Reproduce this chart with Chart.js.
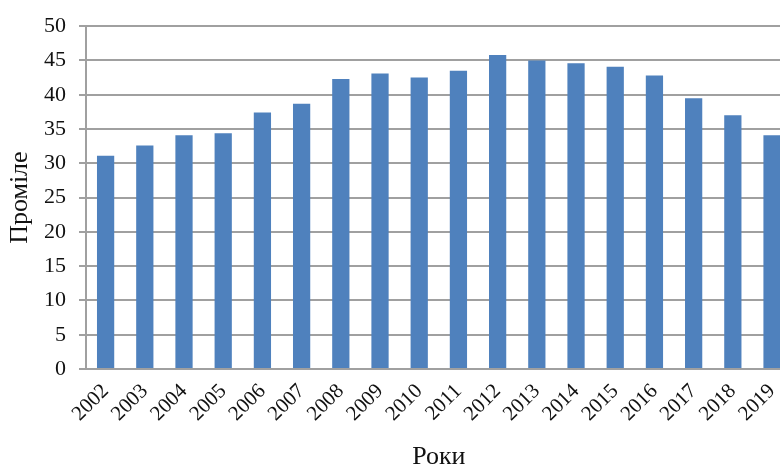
<!DOCTYPE html>
<html>
<head>
<meta charset="utf-8">
<script src="https://cdn.jsdelivr.net/npm/chart.js@4/dist/chart.umd.min.js"></script>
<style>
  html, body { margin: 0; padding: 0; background: #fff; overflow: hidden; width: 780px; height: 470px; }
  #wrap { position: absolute; left: 0; top: 0; width: 800px; height: 470px; }
</style>
</head>
<body>
<div id="wrap"><canvas id="c" width="800" height="470"></canvas></div>
<script>
const categories = ['2002','2003','2004','2005','2006','2007','2008','2009','2010','2011','2012','2013','2014','2015','2016','2017','2018','2019'];
const values = [31.1, 32.6, 34.1, 34.4, 37.4, 38.7, 42.3, 43.1, 42.5, 43.5, 45.8, 45.0, 44.6, 44.1, 42.8, 39.5, 37.0, 34.1];
const yTicks = [0, 5, 10, 15, 20, 25, 30, 35, 40, 45, 50];
const xTitle = 'Роки';
const yTitle = 'Проміле';

const serif = "'Liberation Serif', 'Times New Roman', serif";
const gridColor = '#a0a0a0';

new Chart(document.getElementById('c'), {
  type: 'bar',
  data: {
    labels: categories,
    datasets: [{
      data: values,
      backgroundColor: '#4f81bd',
      borderWidth: 0,
      barPercentage: 0.44,
      categoryPercentage: 1.0
    }]
  },
  options: {
    responsive: false,
    animation: false,
    layout: { padding: { top: 23, right: 5, left: 0, bottom: 0 } },
    plugins: { legend: { display: false }, tooltip: { enabled: false } },
    scales: {
      x: {
        grid: { display: false, drawTicks: false },
        border: { display: true, color: gridColor, width: 2 },
        ticks: {
          autoSkip: false,
          minRotation: 45, maxRotation: 45, padding: 10,
          color: '#111', font: { family: serif, size: 21 }
        },
        title: {
          display: true, text: xTitle, color: '#111',
          font: { family: serif, size: 26, lineHeight: 0.97 },
          padding: { top: 0, bottom: 0 }
        },
        afterFit: (s) => { s.height = 101; }
      },
      y: {
        min: 0, max: 50,
        afterBuildTicks: (s) => { s.ticks = yTicks.map(v => ({ value: v })); },
        grid: { color: gridColor, lineWidth: 2, tickLength: 7, drawTicks: true },
        border: { display: true, color: gridColor, width: 2 },
        ticks: { padding: 13, color: '#111', font: { family: serif, size: 22 } },
        title: {
          display: true, text: yTitle, color: '#111',
          font: { family: serif, size: 26 },
          padding: { top: 5, bottom: 0 }
        },
        afterFit: (s) => { s.width = 86; }
      }
    }
  }
});
</script>
</body>
</html>
